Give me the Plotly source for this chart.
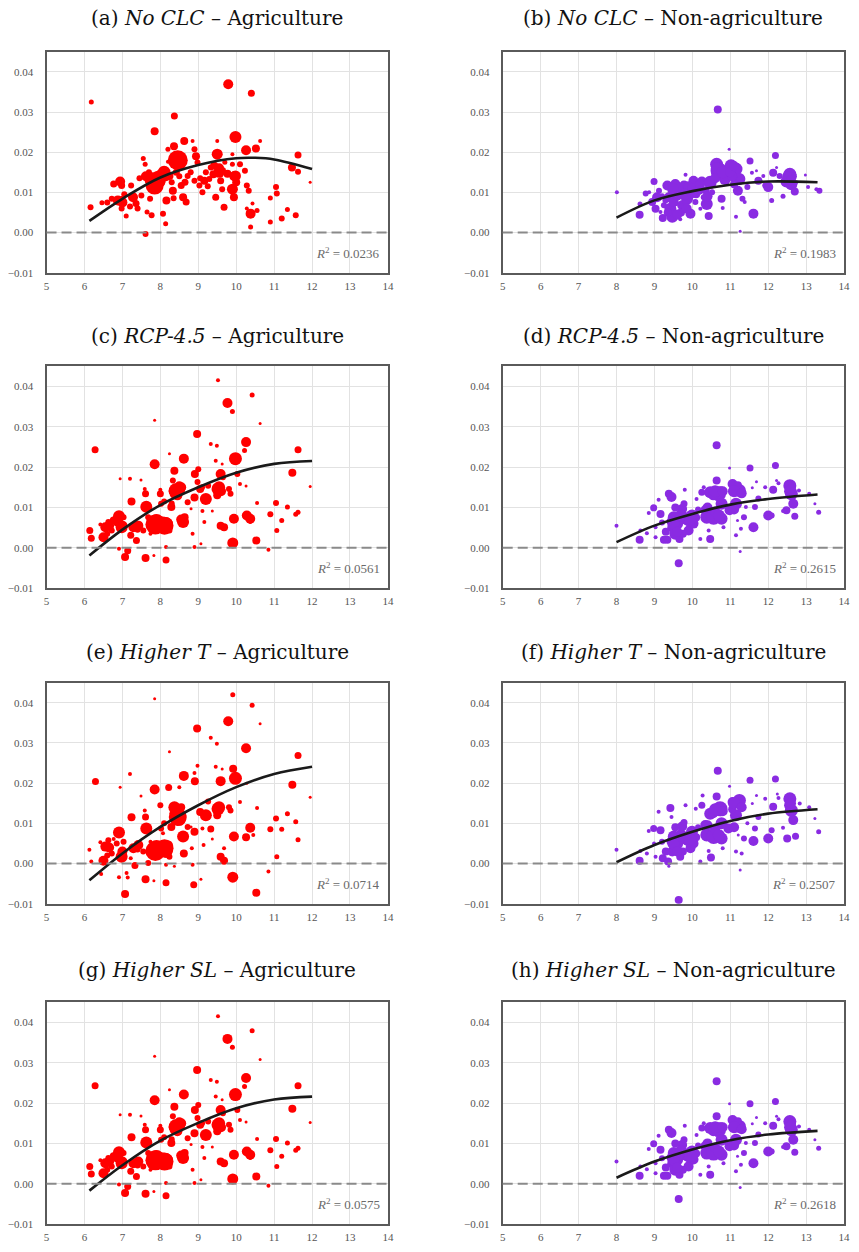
import plotly.graph_objects as go

# Scatter points per panel as (log GDP per capita, growth effect, population weight)
pts_a = [
    (6.18, 0.0325, 5), (6.16, 0.0063, 6), (6.46, 0.0074, 5), (6.60, 0.0075, 6), (6.72, 0.0084, 6),
    (6.77, 0.0121, 7), (6.94, 0.0127, 10), (6.98, 0.0117, 7), (6.88, 0.0080, 10), (7.00, 0.0084, 6),
    (6.98, 0.0060, 6), (7.10, 0.0041, 5), (7.23, 0.0117, 6), (7.28, 0.0088, 10), (7.36, 0.0072, 7),
    (7.40, 0.0060, 6), (7.50, 0.0092, 6), (7.55, 0.0184, 5), (7.60, 0.0170, 5), (7.62, 0.0140, 10),
    (7.68, 0.0129, 7), (7.65, 0.0051, 5), (7.61, -0.0004, 6), (7.73, 0.0084, 6), (7.77, 0.0043, 6),
    (7.85, 0.0252, 8), (7.85, 0.0117, 18), (7.94, 0.0133, 16), (8.10, 0.0150, 13), (8.07, 0.0047, 6),
    (8.14, 0.0022, 5), (8.16, 0.0080, 8), (8.20, 0.0207, 5), (8.20, 0.0176, 4), (8.24, 0.0141, 8),
    (8.33, 0.0104, 8), (8.36, 0.0215, 8), (8.37, 0.0290, 7), (8.46, 0.0180, 20), (8.42, 0.0150, 7),
    (8.55, 0.0117, 7), (8.60, 0.0088, 8), (8.63, 0.0228, 8), (8.68, 0.0076, 7), (8.72, 0.0141, 6),
    (8.85, 0.0228, 4), (8.90, 0.0207, 6), (8.94, 0.0190, 8), (8.90, 0.0129, 6), (8.98, 0.0174, 6),
    (9.03, 0.0117, 6), (9.11, 0.0100, 6), (9.16, 0.0129, 8), (9.20, 0.0150, 6), (9.29, 0.0133, 6),
    (9.33, 0.0162, 6), (9.42, 0.0166, 8), (9.46, 0.0088, 7), (9.50, 0.0228, 4), (9.50, 0.0195, 11),
    (9.55, 0.0150, 11), (9.59, 0.0129, 7), (9.63, 0.0108, 6), (9.68, 0.0063, 7), (9.77, 0.0146, 8),
    (9.79, 0.0369, 10), (9.90, 0.0195, 4), (9.90, 0.0170, 5), (9.90, 0.0108, 11), (9.94, 0.0088, 8),
    (9.98, 0.0141, 11), (9.98, 0.0238, 12), (10.10, 0.0170, 6), (10.23, 0.0154, 6), (10.26, 0.0205, 10),
    (10.28, 0.0117, 6), (10.33, 0.0104, 6), (10.28, 0.0060, 4), (10.38, 0.0047, 10), (10.38, 0.0014, 5),
    (10.40, 0.0347, 7), (10.43, 0.0072, 4), (10.52, 0.0209, 8), (10.55, 0.0055, 5), (10.63, 0.0228, 4),
    (10.90, 0.0026, 5), (10.90, 0.0086, 5), (11.05, 0.0113, 6), (11.07, 0.0097, 6), (11.20, 0.0035, 6),
    (11.35, 0.0057, 5), (11.47, 0.0162, 8), (11.57, 0.0043, 6), (11.63, 0.0193, 7), (11.63, 0.0151, 6),
    (11.95, 0.0125, 3), (7.45, 0.0135, 6), (7.70, 0.0150, 6), (7.80, 0.0140, 8), (8.00, 0.0125, 10),
    (8.05, 0.0140, 8), (8.30, 0.0125, 6), (8.50, 0.0140, 6), (8.65, 0.0125, 7), (8.80, 0.0150, 6),
    (9.05, 0.0135, 6), (9.40, 0.0145, 8), (9.65, 0.0155, 6), (9.70, 0.0175, 5), (10.00, 0.0125, 8),
    (7.20, 0.0065, 6), (7.05, 0.0095, 6), (8.35, 0.0085, 6), (9.25, 0.0115, 6), (7.90, 0.0125, 15),
    (8.00, 0.0140, 13), (8.15, 0.0140, 10), (9.55, 0.0160, 10), (9.95, 0.0140, 10), (7.00, 0.0075, 10),
]

pts_b = [
    (8.01, 0.0100, 4), (8.61, 0.0044, 8), (8.62, 0.0071, 5), (8.77, 0.0097, 6), (8.86, 0.0100, 4),
    (8.99, 0.0127, 7), (8.94, 0.0076, 8), (9.03, 0.0059, 8), (9.07, 0.0088, 10), (9.12, 0.0104, 6),
    (9.16, 0.0051, 4), (9.22, 0.0036, 8), (9.25, 0.0068, 6), (9.29, 0.0080, 6), (9.34, 0.0117, 10),
    (9.38, 0.0088, 10), (9.42, 0.0059, 12), (9.47, 0.0039, 12), (9.51, 0.0076, 10), (9.55, 0.0121, 10),
    (9.60, 0.0096, 13), (9.68, 0.0033, 4), (9.73, 0.0068, 10), (9.78, 0.0117, 10), (9.82, 0.0144, 4),
    (9.86, 0.0084, 12), (9.95, 0.0047, 10), (9.99, 0.0100, 12), (10.03, 0.0129, 10), (10.08, 0.0076, 6),
    (10.16, 0.0108, 12), (10.21, 0.0059, 4), (10.25, 0.0127, 10), (10.30, 0.0088, 6), (10.38, 0.0071, 12),
    (10.43, 0.0041, 8), (10.47, 0.0125, 13), (10.52, 0.0100, 6), (10.56, 0.0145, 4), (10.64, 0.0170, 13),
    (10.69, 0.0154, 16), (10.67, 0.0306, 8), (10.77, 0.0084, 8), (10.80, 0.0061, 4), (10.86, 0.0133, 12),
    (10.97, 0.0207, 3), (11.02, 0.0166, 13), (11.15, 0.0158, 13), (11.24, 0.0133, 12), (11.20, 0.0104, 10),
    (11.15, 0.0039, 4), (11.26, 0.0003, 3), (11.32, 0.0084, 6), (11.38, 0.0076, 4), (11.45, 0.0113, 6),
    (11.52, 0.0178, 7), (11.57, 0.0149, 4), (11.61, 0.0047, 10), (11.69, 0.0154, 3), (11.74, 0.0129, 8),
    (11.87, 0.0141, 4), (11.92, 0.0117, 6), (12.00, 0.0113, 10), (12.09, 0.0080, 5), (12.13, 0.0149, 8),
    (12.19, 0.0192, 7), (12.22, 0.0162, 3), (12.30, 0.0141, 6), (12.39, 0.0090, 5), (12.48, 0.0127, 12),
    (12.57, 0.0145, 13), (12.61, 0.0120, 12), (12.70, 0.0102, 8), (12.74, 0.0125, 4), (12.98, 0.0143, 3),
    (13.05, 0.0113, 4), (13.27, 0.0108, 4), (13.35, 0.0104, 6), (9.45, 0.0105, 8), (9.65, 0.0110, 8),
    (9.90, 0.0115, 10), (10.10, 0.0095, 8), (10.35, 0.0105, 8), (10.60, 0.0135, 10), (10.75, 0.0160, 10),
    (10.90, 0.0150, 8), (11.05, 0.0140, 10), (11.10, 0.0120, 8), (12.55, 0.0130, 10), (12.65, 0.0140, 8),
    (9.35, 0.0050, 8), (9.70, 0.0050, 8), (9.20, 0.0090, 6), (9.50, 0.0110, 10), (9.80, 0.0095, 12),
    (10.00, 0.0110, 10), (10.20, 0.0120, 10), (10.65, 0.0160, 12), (10.80, 0.0150, 12), (11.00, 0.0150, 10),
    (11.10, 0.0165, 10), (12.50, 0.0140, 10), (12.60, 0.0130, 10), (9.60, 0.0045, 10), (9.85, 0.0060, 10),
    (10.40, 0.0090, 10),
]

pts_c = [
    (6.14, 0.0043, 7), (6.18, 0.0024, 7), (6.28, 0.0243, 7), (6.42, 0.0058, 4), (6.50, 0.0026, 10),
    (6.55, 0.0051, 10), (6.63, 0.0064, 6), (6.72, 0.0043, 6), (6.77, 0.0068, 8), (6.91, 0.0078, 12),
    (6.94, 0.0171, 3), (6.98, 0.0051, 12), (7.03, 0.0076, 6), (6.91, -0.0002, 4), (7.07, -0.0023, 8),
    (7.14, -0.0007, 7), (7.20, 0.0171, 4), (7.24, 0.0115, 8), (7.22, 0.0031, 7), (7.29, 0.0051, 10),
    (7.37, 0.0018, 7), (7.42, 0.0055, 10), (7.49, 0.0168, 3), (7.55, 0.0043, 6), (7.59, 0.0146, 4),
    (7.61, 0.0134, 7), (7.63, 0.0102, 12), (7.61, -0.0025, 8), (7.68, 0.0076, 6), (7.74, 0.0035, 4),
    (7.83, -0.0019, 3), (7.85, 0.0316, 3), (7.85, 0.0207, 10), (7.87, 0.0058, 20), (8.00, 0.0134, 7),
    (8.02, 0.0109, 6), (8.00, 0.0144, 4), (8.11, 0.0055, 18), (8.15, 0.0002, 4), (8.15, -0.0030, 7),
    (8.24, 0.0043, 6), (8.24, 0.0233, 3), (8.29, 0.0101, 8), (8.33, 0.0167, 6), (8.37, 0.0191, 8),
    (8.42, 0.0142, 15), (8.55, 0.0150, 10), (8.60, 0.0064, 12), (8.62, 0.0221, 10), (8.64, 0.0076, 8),
    (8.72, 0.0113, 6), (8.81, 0.0097, 3), (8.85, 0.0035, 4), (8.90, 0.0002, 4), (8.90, 0.0125, 8),
    (8.91, 0.0183, 8), (8.97, 0.0282, 8), (8.98, 0.0163, 6), (9.05, 0.0146, 8), (9.07, 0.0010, 3),
    (9.11, 0.0091, 4), (9.16, 0.0064, 4), (9.20, 0.0121, 12), (9.26, 0.0154, 6), (9.33, 0.0257, 4),
    (9.37, 0.0091, 3), (9.46, 0.0216, 4), (9.49, 0.0253, 4), (9.52, 0.0415, 4), (9.52, 0.0146, 13),
    (9.59, 0.0183, 10), (9.59, 0.0055, 8), (9.63, 0.0208, 3), (9.68, 0.0051, 8), (9.77, 0.0359, 10),
    (9.81, 0.0146, 6), (9.85, 0.0134, 6), (9.90, 0.0338, 5), (9.91, 0.0012, 11), (9.94, 0.0072, 10),
    (9.98, 0.0221, 13), (10.03, 0.0183, 6), (10.10, 0.0158, 4), (10.26, 0.0153, 3), (10.22, 0.0241, 5),
    (10.26, 0.0262, 10), (10.28, 0.0080, 10), (10.37, 0.0072, 10), (10.42, 0.0379, 5), (10.37, 0.0064, 4),
    (10.53, 0.0018, 8), (10.55, 0.0111, 4), (10.63, 0.0308, 3), (10.85, -0.0005, 4), (10.90, 0.0083, 6),
    (11.05, 0.0111, 6), (11.07, 0.0043, 5), (11.20, 0.0068, 5), (11.35, 0.0101, 5), (11.48, 0.0186, 8),
    (11.57, 0.0083, 5), (11.63, 0.0088, 5), (11.63, 0.0243, 7), (11.95, 0.0152, 3), (7.95, 0.0060, 13),
    (8.05, 0.0065, 10), (8.20, 0.0060, 10), (8.45, 0.0130, 10), (8.50, 0.0155, 8), (8.55, 0.0070, 10),
    (7.40, 0.0045, 6), (6.60, 0.0035, 6), (6.85, 0.0060, 6), (8.30, 0.0110, 6), (9.00, 0.0195, 6),
    (9.10, 0.0150, 6), (9.50, 0.0130, 8), (9.65, 0.0175, 6), (8.10, 0.0115, 6), (8.40, 0.0135, 12),
    (8.50, 0.0145, 12), (8.35, 0.0140, 10), (7.90, 0.0065, 15), (8.15, 0.0060, 13), (9.55, 0.0150, 12),
    (9.60, 0.0140, 10), (7.00, 0.0055, 10), (6.65, 0.0055, 10),
]

pts_d = [
    (8.00, 0.0055, 4), (8.61, 0.0020, 8), (8.63, 0.0043, 4), (8.80, 0.0036, 4), (8.85, 0.0086, 4),
    (8.98, 0.0099, 7), (9.03, 0.0026, 4), (9.03, 0.0051, 4), (9.11, 0.0119, 4), (9.16, 0.0084, 8),
    (9.20, 0.0063, 6), (9.25, 0.0020, 8), (9.34, 0.0020, 8), (9.38, 0.0134, 8), (9.45, 0.0126, 10),
    (9.47, 0.0051, 10), (9.51, 0.0076, 12), (9.55, 0.0035, 12), (9.60, 0.0060, 12), (9.64, -0.0038, 8),
    (9.66, 0.0022, 8), (9.73, 0.0096, 10), (9.78, 0.0109, 7), (9.80, 0.0144, 4), (9.86, 0.0072, 13),
    (9.90, 0.0043, 10), (9.99, 0.0080, 12), (10.03, 0.0060, 10), (10.11, 0.0121, 4), (10.21, 0.0022, 4),
    (10.25, 0.0138, 7), (10.30, 0.0150, 4), (10.34, 0.0093, 10), (10.38, 0.0076, 13), (10.43, 0.0043, 4),
    (10.47, 0.0022, 8), (10.47, 0.0138, 12), (10.56, 0.0076, 15), (10.64, 0.0254, 8), (10.64, 0.0167, 8),
    (10.69, 0.0134, 15), (10.77, 0.0109, 12), (10.77, 0.0072, 12), (10.82, 0.0051, 4), (10.98, 0.0198, 3),
    (10.98, 0.0093, 10), (11.06, 0.0158, 10), (11.15, 0.0109, 12), (11.24, 0.0142, 13), (11.15, 0.0031, 4),
    (11.19, 0.0068, 3), (11.26, -0.0009, 3), (11.28, 0.0047, 4), (11.36, 0.0076, 6), (11.41, 0.0101, 4),
    (11.52, 0.0198, 7), (11.58, 0.0149, 3), (11.61, 0.0051, 10), (11.65, 0.0101, 6), (11.69, 0.0164, 3),
    (11.74, 0.0122, 6), (11.92, 0.0150, 4), (12.00, 0.0080, 10), (12.09, 0.0080, 6), (12.13, 0.0144, 8),
    (12.19, 0.0204, 7), (12.22, 0.0167, 3), (12.27, 0.0160, 4), (12.39, 0.0091, 4), (12.48, 0.0093, 8),
    (12.57, 0.0154, 13), (12.61, 0.0134, 13), (12.66, 0.0109, 10), (12.70, 0.0078, 7), (12.81, 0.0142, 4),
    (13.08, 0.0134, 4), (13.23, 0.0109, 3), (13.33, 0.0088, 5), (9.45, 0.0065, 10), (9.65, 0.0070, 10),
    (9.90, 0.0065, 10), (10.10, 0.0075, 8), (10.55, 0.0130, 10), (10.75, 0.0140, 10), (10.60, 0.0090, 10),
    (11.05, 0.0140, 8), (11.10, 0.0095, 10), (12.55, 0.0140, 10), (9.30, 0.0040, 8), (9.75, 0.0035, 8),
    (10.15, 0.0095, 6), (11.20, 0.0155, 8), (9.55, 0.0100, 8), (9.50, 0.0060, 12), (9.70, 0.0080, 12),
    (9.95, 0.0070, 12), (10.60, 0.0140, 12), (10.70, 0.0080, 12), (10.80, 0.0140, 10), (11.10, 0.0140, 12),
    (11.30, 0.0135, 10), (12.60, 0.0145, 10), (9.60, 0.0040, 10), (10.40, 0.0100, 10),
]

pts_e = [
    (6.13, 0.0034, 4), (6.18, 0.0005, 4), (6.29, 0.0204, 7), (6.42, 0.0053, 4), (6.50, 0.0007, 10),
    (6.55, 0.0042, 10), (6.44, -0.0026, 4), (6.63, 0.0058, 6), (6.72, 0.0025, 6), (6.77, 0.0061, 4),
    (6.91, 0.0077, 12), (6.94, 0.0190, 3), (6.98, 0.0017, 12), (7.03, 0.0054, 6), (6.91, -0.0034, 4),
    (7.07, -0.0076, 8), (7.14, -0.0035, 4), (7.11, -0.0024, 4), (7.20, 0.0223, 4), (7.24, 0.0115, 8),
    (7.22, 0.0013, 4), (7.29, 0.0038, 10), (7.33, -0.0005, 7), (7.42, 0.0046, 10), (7.49, 0.0168, 3),
    (7.55, 0.0030, 6), (7.59, 0.0132, 4), (7.61, 0.0116, 7), (7.63, 0.0087, 12), (7.61, -0.0039, 8),
    (7.68, 0.0001, 6), (7.74, 0.0054, 4), (7.83, -0.0043, 3), (7.85, 0.0410, 3), (7.85, 0.0184, 10),
    (7.87, 0.0031, 20), (8.00, 0.0145, 6), (8.02, 0.0087, 6), (8.07, 0.0075, 4), (8.11, 0.0038, 18),
    (8.15, -0.0003, 4), (8.15, -0.0048, 7), (8.24, 0.0017, 6), (8.24, 0.0278, 3), (8.22, 0.0189, 7),
    (8.29, 0.0091, 8), (8.37, -0.0007, 3), (8.37, 0.0140, 12), (8.46, 0.0116, 18), (8.50, 0.0190, 4),
    (8.55, 0.0120, 10), (8.60, 0.0067, 12), (8.62, 0.0218, 10), (8.62, 0.0025, 8), (8.72, 0.0091, 6),
    (8.81, 0.0091, 3), (8.83, 0.0038, 4), (8.85, -0.0003, 4), (8.88, -0.0053, 7), (8.90, 0.0079, 8),
    (8.91, 0.0205, 8), (8.90, 0.0225, 4), (8.97, 0.0336, 8), (8.98, 0.0243, 4), (9.05, 0.0128, 8),
    (9.07, -0.0039, 3), (9.11, 0.0087, 4), (9.14, 0.0046, 4), (9.20, 0.0120, 12), (9.26, 0.0154, 6),
    (9.33, 0.0313, 4), (9.33, 0.0086, 7), (9.37, 0.0061, 3), (9.46, 0.0241, 4), (9.49, 0.0298, 4),
    (9.52, 0.0136, 13), (9.59, 0.0205, 10), (9.59, 0.0017, 8), (9.63, 0.0235, 3), (9.68, 0.0038, 4),
    (9.68, 0.0007, 8), (9.79, 0.0354, 10), (9.81, 0.0140, 6), (9.85, 0.0132, 6), (9.91, 0.0420, 5),
    (9.91, -0.0034, 11), (9.94, 0.0067, 10), (9.92, 0.0236, 8), (9.98, 0.0212, 13), (10.10, 0.0153, 4),
    (10.26, 0.0065, 8), (10.26, 0.0287, 10), (10.28, 0.0200, 3), (10.37, 0.0089, 10), (10.42, 0.0394, 5),
    (10.45, 0.0071, 4), (10.53, -0.0073, 8), (10.55, 0.0138, 4), (10.63, 0.0348, 3), (10.85, -0.0020, 4),
    (10.90, 0.0085, 6), (11.05, 0.0112, 6), (11.07, 0.0017, 5), (11.20, 0.0085, 5), (11.35, 0.0124, 5),
    (11.48, 0.0196, 8), (11.57, 0.0104, 5), (11.63, 0.0059, 5), (11.63, 0.0269, 7), (11.95, 0.0165, 3),
    (7.95, 0.0035, 13), (8.05, 0.0040, 10), (8.20, 0.0045, 10), (8.45, 0.0125, 10), (8.55, 0.0140, 8),
    (7.40, 0.0035, 6), (6.60, 0.0020, 6), (6.85, 0.0050, 6), (8.10, 0.0100, 6), (9.50, 0.0120, 8),
    (8.40, 0.0125, 12), (8.50, 0.0110, 13), (7.90, 0.0040, 15), (8.15, 0.0030, 13), (9.55, 0.0140, 12),
    (7.00, 0.0030, 10), (6.65, 0.0040, 10),
]

pts_f = [
    (8.00, 0.0034, 4), (8.61, 0.0007, 8), (8.63, 0.0031, 4), (8.80, 0.0025, 4), (8.85, 0.0081, 4),
    (8.98, 0.0087, 7), (9.03, 0.0017, 4), (8.99, 0.0050, 4), (9.11, 0.0129, 4), (9.16, 0.0083, 8),
    (9.20, 0.0054, 6), (9.22, 0.0013, 8), (9.36, 0.0005, 8), (9.38, -0.0007, 3), (9.42, 0.0138, 8),
    (9.45, 0.0116, 4), (9.47, 0.0030, 10), (9.51, 0.0067, 12), (9.55, 0.0038, 12), (9.60, 0.0050, 12),
    (9.64, -0.0091, 8), (9.68, 0.0017, 8), (9.73, 0.0092, 10), (9.78, 0.0102, 7), (9.82, 0.0145, 4),
    (9.86, 0.0061, 13), (9.95, 0.0038, 10), (9.99, 0.0079, 12), (10.03, 0.0050, 10), (10.09, 0.0136, 4),
    (10.21, 0.0005, 4), (10.25, 0.0145, 7), (10.27, 0.0169, 4), (10.34, 0.0096, 10), (10.38, 0.0071, 13),
    (10.43, 0.0031, 4), (10.49, 0.0015, 8), (10.47, 0.0124, 12), (10.56, 0.0067, 15), (10.67, 0.0231, 8),
    (10.64, 0.0167, 8), (10.73, 0.0136, 15), (10.77, 0.0100, 12), (10.77, 0.0062, 12), (10.80, 0.0038, 4),
    (10.98, 0.0192, 3), (10.95, 0.0087, 10), (11.06, 0.0153, 10), (11.15, 0.0120, 12), (11.24, 0.0157, 13),
    (11.15, 0.0030, 4), (11.21, 0.0071, 3), (11.26, -0.0016, 3), (11.30, 0.0025, 4), (11.36, 0.0062, 6),
    (11.45, 0.0100, 4), (11.52, 0.0207, 7), (11.58, 0.0149, 3), (11.61, 0.0056, 10), (11.65, 0.0087, 6),
    (11.69, 0.0169, 3), (11.74, 0.0116, 6), (11.92, 0.0161, 4), (12.00, 0.0062, 10), (12.09, 0.0083, 6),
    (12.13, 0.0141, 8), (12.19, 0.0210, 7), (12.24, 0.0173, 3), (12.27, 0.0163, 4), (12.39, 0.0089, 4),
    (12.50, 0.0062, 8), (12.57, 0.0161, 13), (12.61, 0.0132, 13), (12.66, 0.0108, 10), (12.72, 0.0068, 7),
    (12.83, 0.0149, 4), (13.08, 0.0140, 4), (13.23, 0.0112, 3), (13.33, 0.0079, 5), (9.45, 0.0055, 10),
    (9.65, 0.0060, 10), (9.90, 0.0055, 10), (10.10, 0.0065, 8), (10.55, 0.0125, 10), (10.75, 0.0130, 10),
    (10.60, 0.0085, 10), (11.05, 0.0135, 8), (11.10, 0.0090, 10), (12.55, 0.0145, 10), (9.30, 0.0030, 8),
    (9.75, 0.0030, 8), (10.15, 0.0090, 6), (11.20, 0.0150, 8), (9.55, 0.0090, 8), (9.50, 0.0050, 12),
    (9.70, 0.0070, 12), (9.95, 0.0060, 12), (10.60, 0.0135, 12), (10.70, 0.0070, 12), (10.80, 0.0130, 10),
    (11.10, 0.0150, 12), (11.30, 0.0140, 10), (12.60, 0.0150, 10), (9.60, 0.0030, 10), (10.40, 0.0095, 10),
]

# Higher SL scenario is visually identical to RCP-4.5
pts_g = list(pts_c)
pts_h = list(pts_d)

# Quadratic fit curves, sampled along x
fit_a_x = [6.13, 7, 8, 9, 10, 10.5, 11, 12]
fit_a_y = [0.0029, 0.0084, 0.0137, 0.0168, 0.0185, 0.0186, 0.0182, 0.0158]
fit_b_x = [8.0, 9, 10, 11, 12, 13.3]
fit_b_y = [0.0037, 0.0080, 0.0103, 0.0119, 0.0127, 0.0125]
fit_c_x = [6.13, 7, 8, 9, 10, 11, 12]
fit_c_y = [-0.0019, 0.0045, 0.0106, 0.0150, 0.0186, 0.0208, 0.0215]
fit_d_x = [8.0, 9, 10, 11, 12, 13.3]
fit_d_y = [0.0014, 0.0055, 0.0084, 0.0107, 0.0121, 0.0132]
fit_e_x = [6.13, 7, 8, 9, 10, 11, 12]
fit_e_y = [-0.0042, 0.0025, 0.0091, 0.0145, 0.0190, 0.0223, 0.0241]
fit_f_x = [8.0, 9, 10, 11, 12, 13.3]
fit_f_y = [0.0003, 0.0046, 0.0079, 0.0106, 0.0124, 0.0135]
fit_g_x = [6.13, 7, 8, 9, 10, 11, 12]
fit_g_y = [-0.0017, 0.0046, 0.0107, 0.0151, 0.0187, 0.0209, 0.0216]
fit_h_x = [8.0, 9, 10, 11, 12, 13.3]
fit_h_y = [0.0015, 0.0055, 0.0085, 0.0108, 0.0122, 0.0131]

titles = [
    "(a) <i>No CLC</i> – Agriculture", "(b) <i>No CLC</i> – Non-agriculture",
    "(c) <i>RCP-4.5</i> – Agriculture", "(d) <i>RCP-4.5</i> – Non-agriculture",
    "(e) <i>Higher T</i> – Agriculture", "(f) <i>Higher T</i> – Non-agriculture",
    "(g) <i>Higher SL</i> – Agriculture", "(h) <i>Higher SL</i> – Non-agriculture",
]
r2_values = ["0.0236", "0.1983", "0.0561", "0.2615", "0.0714", "0.2507", "0.0575", "0.2618"]
x_ticks = [5, 6, 7, 8, 9, 10, 11, 12, 13, 14]
y_ticks = [-0.01, 0.00, 0.01, 0.02, 0.03, 0.04]

points = [pts_a, pts_b, pts_c, pts_d, pts_e, pts_f, pts_g, pts_h]
fits = [(fit_a_x, fit_a_y), (fit_b_x, fit_b_y), (fit_c_x, fit_c_y), (fit_d_x, fit_d_y),
        (fit_e_x, fit_e_y), (fit_f_x, fit_f_y), (fit_g_x, fit_g_y), (fit_h_x, fit_h_y)]

W, H = 859, 1252
SERIF = "Liberation Serif, Times New Roman, serif"
TITLE_FONT = "DejaVu Serif, serif"
RED = "#ff0000"
PURPLE = "#8a2be2"

col_px = [(44, 389), (505, 850)]
row_px = [(52, 274), (368, 591), (686, 908), (1007, 1230)]
title_y_px = [18, 338, 655, 975]

fig = go.Figure()
layout = {}
annotations = []
shapes = []

for i in range(8):
    r, c = divmod(i, 2)
    sfx = "" if i == 0 else str(i + 1)
    xs, ys, ws = zip(*points[i])
    color = RED if c == 0 else PURPLE
    fig.add_trace(go.Scatter(
        x=xs, y=ys, mode="markers",
        marker=dict(size=ws, color=color, line=dict(width=0), opacity=1),
        xaxis="x" + sfx, yaxis="y" + sfx, showlegend=False, hoverinfo="skip",
    ))
    fx, fy = fits[i]
    fig.add_trace(go.Scatter(
        x=fx, y=fy, mode="lines",
        line=dict(color="#1a1a1a", width=2.6, shape="spline", smoothing=1.0),
        xaxis="x" + sfx, yaxis="y" + sfx, showlegend=False, hoverinfo="skip",
    ))

    x0, x1 = col_px[c]
    y0, y1 = row_px[r]
    axis_common = dict(
        showgrid=True, gridcolor="#e2e2e2", gridwidth=1,
        showline=True, mirror=True, linecolor="#5a5a5a", linewidth=2,
        zeroline=False, ticks="",
        tickfont=dict(family=SERIF, size=11, color="#555555"),
    )
    layout["xaxis" + sfx] = dict(
        domain=[x0 / W, x1 / W], range=[5, 14], tickvals=x_ticks,
        anchor="y" + sfx, ticklabelstandoff=2, **axis_common,
    )
    layout["yaxis" + sfx] = dict(
        domain=[1 - y1 / H, 1 - y0 / H], range=[-0.01, 0.045], tickvals=y_ticks,
        tickformat=".2f", anchor="x" + sfx, ticklabelstandoff=9, **axis_common,
    )

    shapes.append(dict(
        type="line", xref="x" + sfx + " domain", yref="y" + sfx,
        x0=0, x1=1, y0=0, y1=0,
        line=dict(color="#8a8a8a", width=2, dash="10px,5px"),
    ))
    annotations.append(dict(
        xref="x" + sfx, yref="y" + sfx, x=13.85, y=-0.005,
        xanchor="right", yanchor="middle", showarrow=False,
        text="<i>R</i><sup>2</sup> = " + r2_values[i],
        font=dict(family=SERIF, size=13, color="#6a6a6a"),
    ))
    annotations.append(dict(
        xref="paper", yref="paper", x=(x0 + x1) / 2 / W, y=1 - title_y_px[r] / H,
        xanchor="center", yanchor="middle", showarrow=False,
        text=titles[i], font=dict(family=TITLE_FONT, size=20, color="#111111"),
    ))

fig.update_layout(
    width=W, height=H, margin=dict(l=0, r=0, t=0, b=0),
    paper_bgcolor="white", plot_bgcolor="white",
    annotations=annotations, shapes=shapes, **layout,
)

fig.write_html("out.html")
